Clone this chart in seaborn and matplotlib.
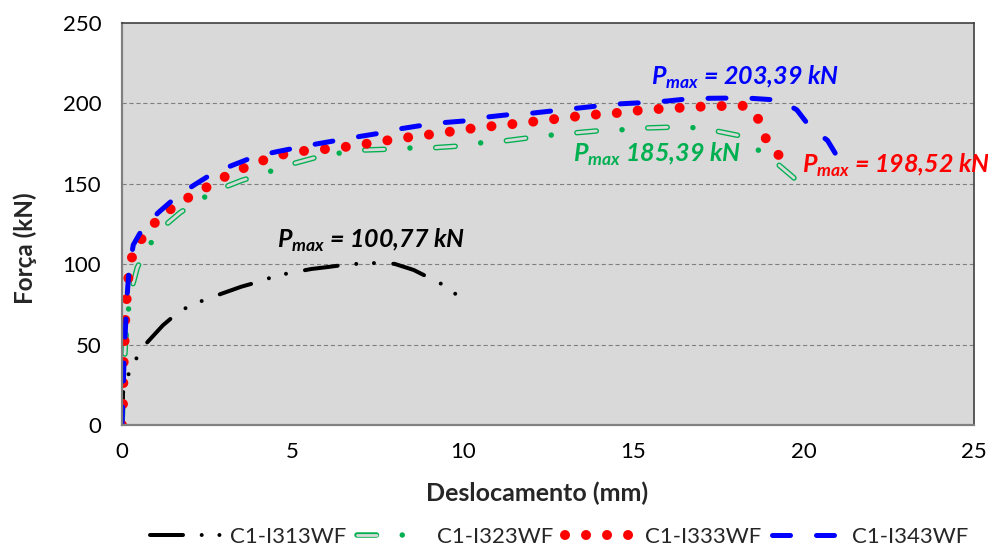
import matplotlib
matplotlib.use("Agg")
import matplotlib.pyplot as plt
import seaborn as sns
import pandas as pd
from matplotlib.legend_handler import HandlerTuple

# Load-displacement curves (displacement in mm, force in kN)
i313_x = [0, 0.02, 0.03, 0.1, 0.18, 0.35, 0.68, 1.2, 1.7, 2.2, 2.7, 3.5, 4.0, 4.55,
          5.55, 6.06, 6.6, 7.1, 7.5, 8.0, 8.56, 9.03, 9.44, 9.88]
i313_y = [0, 10, 20, 27, 31, 39, 50, 62, 71, 76, 80, 86, 89, 93,
          97, 98.3, 99.8, 100.5, 100.77, 100.2, 96.4, 91.4, 87, 80]

i323_x = [0, 0.02, 0.05, 0.1, 0.15, 0.25, 0.45, 0.77, 1.2, 1.7, 2.27, 2.9, 3.5, 4.1,
          5.1, 5.8, 6.35, 7.1, 7.8, 8.5, 9.2, 9.9, 10.5, 11.2, 11.9, 12.6, 13.3,
          14.0, 14.6, 15.35, 16.1, 16.6, 17.4, 18.1, 18.6, 19.2, 19.7, 20.0]
i323_y = [0, 10, 30, 50, 65, 82, 98, 111, 123, 132, 140, 147, 152, 156,
          163, 167, 169, 171, 171.5, 172.3, 172.5, 173.5, 175.4, 176.6, 178.5, 180.3, 181.7,
          183, 183.5, 184.7, 185.2, 185.39, 183, 180, 172, 163, 154, 147]

i333_x = [0, 0.02, 0.03, 0.05, 0.08, 0.1, 0.15, 0.2, 0.33, 0.68, 1.1, 1.6, 2.15, 2.67,
          3.2, 3.8, 4.4, 5.1, 5.77, 6.4, 7.0, 7.6, 8.25, 8.9, 9.5, 10.1, 10.7, 11.4,
          12.0, 12.6, 13.2, 13.86, 14.5, 15.1, 15.7, 16.4, 17.0, 17.65, 18.3, 18.7,
          18.9, 19.3]
i333_y = [0, 3, 15, 40, 55, 68, 82, 95, 108, 119, 129, 137, 144, 150,
          156.7, 161.7, 166.7, 170, 171.2, 172.5, 174.3, 176.4, 178.5, 180.3, 182, 184, 185.5, 187,
          188.5, 190, 191.6, 193, 194, 195.5, 196.5, 197.3, 198, 198.4, 198.52, 189.6,
          177.7, 167]

i343_x = [0, 0.03, 0.06, 0.1, 0.15, 0.2, 0.33, 0.6, 1.06, 1.6, 2.1, 2.7, 3.3, 3.9,
          4.55, 5.5, 6.2, 6.85, 7.6, 8.1, 8.7, 9.4, 10.0, 10.7, 11.35, 12.06, 12.7,
          13.35, 14.0, 14.6, 15.3, 16.0, 16.6, 17.3, 18.3, 19.3, 19.8, 20.2, 20.7, 21.1]
i343_y = [0, 20, 40, 60, 80, 95, 112, 122, 132, 142, 149, 157, 162, 167,
          170, 174, 176.6, 179, 181.6, 184, 186, 188, 189, 191.5, 193, 194, 195.5,
          197, 198.5, 199.7, 200.5, 201.5, 202.8, 203.2, 203.39, 202, 196, 185, 177, 163]

series_names = ["C1-I313WF", "C1-I323WF", "C1-I333WF", "C1-I343WF"]
pmax_labels = ["= 100,77 kN", "185,39 kN", "= 198,52 kN", "= 203,39 kN"]

PX = 0.72  # points per pixel at 100 dpi
bg = "#D9D9D9"
green = "#00B050"

sns.set_theme(style="white")
plt.rcParams["font.family"] = ["Lato", "DejaVu Sans"]
plt.rcParams["lines.scale_dashes"] = False

fig, ax = plt.subplots(figsize=(9.88, 5.52), dpi=100)
fig.subplots_adjust(left=122 / 988, right=974 / 988, top=1 - 23 / 552, bottom=1 - 425 / 552)
ax.set_facecolor(bg)

common = dict(ax=ax, sort=False, estimator=None, legend=False,
              dash_capstyle="round", solid_capstyle="round")

# black: long dash, dot, dot
sns.lineplot(x=i313_x, y=i313_y, color="black", linewidth=4 * PX,
             linestyle=(0, (33 * PX, 18.7 * PX, 0.01, 17.7 * PX, 0.01, 19.3 * PX)), **common)
h_black = ax.lines[-1]

# green: hollow dash, dot (outline drawn wide, then filled with background)
sns.lineplot(x=i323_x, y=i323_y, color=green, linewidth=5.5 * PX,
             linestyle=(0, (19.5 * PX, 25.75 * PX, 0.01, 25.75 * PX)), **common)
h_green_out = ax.lines[-1]
sns.lineplot(x=i323_x, y=i323_y, color=bg, linewidth=2.8 * PX,
             linestyle=(0, (19.5 * PX, 51.51 * PX)), **common)
h_green_in = ax.lines[-1]

# red: round dots
sns.lineplot(x=i333_x, y=i333_y, color="#FF0000", linewidth=10 * PX,
             linestyle=(0, (0.01, 21 * PX)), **common)
h_red = ax.lines[-1]

# blue: long dashes
sns.lineplot(x=i343_x, y=i343_y, color="#0000FF", linewidth=5 * PX,
             linestyle=(0, (18 * PX, 26 * PX)), **common)
h_blue = ax.lines[-1]

ax.set_xlim(0, 25)
ax.set_ylim(0, 250)
ax.set_xticks(range(0, 26, 5))
ax.set_yticks(range(0, 251, 50))
for yv in [50, 100, 150, 200]:
    ax.axhline(yv, color="#7F7F7F", linewidth=0.8, linestyle=(0, (3, 2)), zorder=0.5)

ax.tick_params(axis="both", direction="out", length=6, width=1, color="#808080",
               labelsize=16, labelcolor="black")
ax.tick_params(axis="y", pad=9)
ax.tick_params(axis="x", pad=6)
for side in ["left", "bottom"]:
    ax.spines[side].set_color("#808080")
    ax.spines[side].set_linewidth(1.6)
for side in ["top", "right"]:
    ax.spines[side].set_color("#404040")
    ax.spines[side].set_linewidth(1.2)

ax.set_xlabel("Deslocamento (mm)", fontsize=18, fontweight="bold")
ax.set_ylabel("Força (kN)", fontsize=17.5, fontweight="bold")
ax.xaxis.set_label_coords(0.487, -0.14)
ax.yaxis.set_label_coords(-0.10, 0.44)

# Pmax annotations
ann = dict(fontsize=18, fontweight="bold", style="italic", va="center", ha="left",
           clip_on=False)
pm = r"$\mathdefault{P}_{\mathdefault{max}}$ "
ax.text(4.56, 115, pm + pmax_labels[0], color="black", **ann)
ax.text(13.24, 168, pm + pmax_labels[1], color=green, **ann)
ax.text(19.94, 161.7, pm + pmax_labels[2], color="#FF0000", **ann)
ax.text(15.53, 216, pm + pmax_labels[3], color="#0000FF", **ann)

leg = fig.legend(handles=[h_black, (h_green_out, h_green_in), h_red, h_blue],
                 labels=series_names, ncol=4, frameon=False, fontsize=16,
                 loc="center", bbox_to_anchor=(559 / 988, 1 - 537 / 552),
                 handlelength=3.2, handletextpad=0.4, columnspacing=0.5,
                 handler_map={tuple: HandlerTuple(ndivide=1, pad=0)})

fig.savefig("out.png", dpi=100, facecolor="white")
